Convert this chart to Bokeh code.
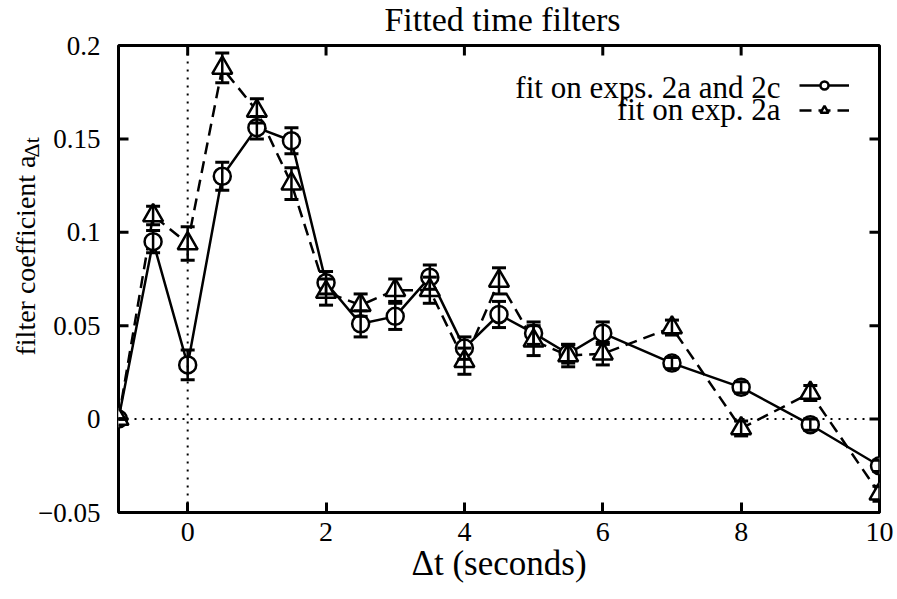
import math
from bokeh.plotting import figure
from bokeh.layouts import row, column
from bokeh.models import (ColumnDataSource, Whisker, TeeHead, Span, Label,
                          FixedTicker, Legend, LegendItem, Range1d)
from bokeh.embed import file_html
from bokeh.resources import INLINE

# ---- data ----
dt = [-1, -0.5, 0, 0.5, 1, 1.5, 2, 2.5, 3, 3.5, 4, 4.5, 5, 5.5, 6, 7, 8, 9, 10]
fit_2a_2c = [0.0, 0.095, 0.029, 0.130, 0.156, 0.149, 0.073, 0.051, 0.055, 0.076,
             0.038, 0.056, 0.046, 0.035, 0.046, 0.030, 0.017, -0.003, -0.025]
fit_2a_2c_err = [0.0, 0.006, 0.008, 0.0075, 0.006, 0.007, 0.006, 0.007, 0.007, 0.0065,
                 0.006, 0.007, 0.006, 0.005, 0.006, 0.003, 0.003, 0.003, 0.003]
fit_2a = [0.0, 0.109, 0.094, 0.188, 0.165, 0.126, 0.068, 0.061, 0.069, 0.069,
          0.031, 0.074, 0.042, 0.034, 0.035, 0.049, -0.005, 0.014, -0.040]
fit_2a_err = [0.0, 0.005, 0.009, 0.008, 0.0065, 0.0085, 0.007, 0.006, 0.006, 0.007,
              0.007, 0.007, 0.008, 0.006, 0.006, 0.004, 0.004, 0.004, 0.004]
series_names = ["fit on exps. 2a and 2c", "fit on exp. 2a"]
x_ticks = [0, 2, 4, 6, 8, 10]
x_tick_labels = ["0", "2", "4", "6", "8", "10"]
y_ticks = [-0.05, 0.0, 0.05, 0.1, 0.15, 0.2]
y_tick_labels = ["\u22120.05", "0", "0.05", "0.1", "0.15", "0.2"]
title_text = "Fitted time filters"
x_label = "\u0394t (seconds)"
y_label_main = "filter coefficient a"
y_label_sub = "\u0394t"

FONT = "Liberation Serif"
W, H = 897, 599
LEFT_W = 116                    # left strip: y tick labels + y title
TOP_H = 43                      # top strip: chart title
FRAME_TOP, FRAME_BOTTOM = 45, 512   # frame edges in page pixels
MAIN_W, MAIN_H = W - LEFT_W, H - TOP_H

X0, X1 = -1, 10
Y0, Y1 = -0.05, 0.2

def no_frame_align(f):
    try:
        f.frame_align = False
    except Exception:
        pass

src1 = ColumnDataSource(dict(
    x=dt, y=fit_2a_2c,
    lo=[v - e for v, e in zip(fit_2a_2c, fit_2a_2c_err)],
    hi=[v + e for v, e in zip(fit_2a_2c, fit_2a_2c_err)]))
src2 = ColumnDataSource(dict(
    x=dt, y=fit_2a,
    lo=[v - e for v, e in zip(fit_2a, fit_2a_err)],
    hi=[v + e for v, e in zip(fit_2a, fit_2a_err)]))

def blank_strip(w, h, xr, yr):
    f = figure(width=w, height=h, output_backend="svg", toolbar_location=None,
               x_range=xr, y_range=yr,
               min_border=0, min_border_left=0, min_border_right=0,
               min_border_top=0, min_border_bottom=0)
    f.axis.visible = False
    f.xgrid.visible = False
    f.ygrid.visible = False
    f.outline_line_color = None
    f.background_fill_color = "white"
    f.border_fill_color = "white"
    no_frame_align(f)
    return f

# ---------------- main plot ----------------
xr = Range1d(X0, X1)
yr = Range1d(Y0, Y1)
p = figure(width=MAIN_W, height=MAIN_H, output_backend="svg", toolbar_location=None,
           x_range=xr, y_range=yr,
           min_border_left=118 - LEFT_W, min_border_right=18,
           min_border_top=FRAME_TOP - TOP_H, min_border_bottom=H - FRAME_BOTTOM)
no_frame_align(p)
p.background_fill_color = "white"
p.border_fill_color = "white"
p.xgrid.visible = False
p.ygrid.visible = False
p.yaxis.visible = False
p.outline_line_color = "black"
p.outline_line_width = 3

ax = p.xaxis[0]
ax.ticker = FixedTicker(ticks=x_ticks)
ax.major_label_overrides = {t: l for t, l in zip(x_ticks, x_tick_labels)}
ax.minor_tick_line_color = None
ax.major_tick_in = 10
ax.major_tick_out = 0
ax.major_tick_line_width = 3
ax.major_tick_line_color = "black"
ax.axis_line_color = "black"
ax.axis_line_width = 3
ax.major_label_text_font = FONT
ax.major_label_text_font_size = "28px"
ax.major_label_text_color = "black"
ax.major_label_standoff = 10
ax.axis_label = x_label
ax.axis_label_text_font = FONT
ax.axis_label_text_font_size = "35px"
ax.axis_label_text_font_style = "normal"
ax.axis_label_text_color = "black"
ax.axis_label_standoff = 0

# inward ticks on the top, left and right frame edges (outer half of each dash is clipped)
p.scatter(x=x_ticks, y=[Y1] * len(x_ticks), marker="dash", angle=math.pi / 2,
          size=20, line_width=3, line_color="black")
p.scatter(x=[X1] * len(y_ticks), y=y_ticks, marker="dash",
          size=20, line_width=3, line_color="black")
p.scatter(x=[X0] * len(y_ticks), y=y_ticks, marker="dash",
          size=20, line_width=3, line_color="black")

# dotted zero axes
p.add_layout(Span(location=0, dimension="width", line_dash="2 6", line_width=2, line_color="black"))
p.add_layout(Span(location=0, dimension="height", line_dash="2 6", line_width=2, line_color="black"))

# lines
l1 = p.line("x", "y", source=src1, line_color="black", line_width=2.5)
l2 = p.line("x", "y", source=src2, line_color="black", line_width=2.5, line_dash="12 7")

# error bars
for src in (src1, src2):
    w = Whisker(source=src, base="x", lower="lo", upper="hi", dimension="height",
                line_color="black", line_width=2.5, level="glyph",
                upper_head=TeeHead(size=14, line_width=3, line_color="black"),
                lower_head=TeeHead(size=14, line_width=3, line_color="black"))
    p.add_layout(w)

# markers
m1 = p.scatter("x", "y", source=src1, marker="circle", size=17, fill_color="white",
               line_color="black", line_width=2.5)
m2 = p.scatter("x", "y", source=src2, marker="triangle", size=20, fill_color="white",
               line_color="black", line_width=2.5)

# legend: text on the left, sample on the right (gnuplot style)
legend = Legend(items=[LegendItem(label="", renderers=[l1, m1]),
                       LegendItem(label="", renderers=[l2, m2])],
                location="top_right", margin=30, padding=0, spacing=5,
                glyph_width=50, glyph_height=20, label_width=0, label_standoff=0,
                label_height=20, label_text_font=FONT, label_text_font_size="18px",
                border_line_alpha=0, background_fill_alpha=0)
p.add_layout(legend)
for i, name in enumerate(series_names):
    p.add_layout(Label(x=662, y=425 - 22 * i, x_units="screen", y_units="screen",
                       text=name, text_align="right", text_baseline="alphabetic",
                       text_font=FONT, text_font_size="31px", text_color="black"))

# ---------------- left strip: y tick labels and y title ----------------
per_px = (Y1 - Y0) / (FRAME_BOTTOM - FRAME_TOP)
left_yr = Range1d(Y0 - (H - FRAME_BOTTOM) * per_px, Y1 + FRAME_TOP * per_px)

def page_y(py):
    """page pixel row -> value on the left strip's y scale"""
    return Y1 - (py - FRAME_TOP) * per_px

left = blank_strip(LEFT_W, H, Range1d(0, LEFT_W), left_yr)
left.text(x=[100] * len(y_ticks), y=y_ticks, text=y_tick_labels,
          text_align="right", text_baseline="middle", text_font=FONT,
          text_font_size="27px", text_color="black")
left.text(x=[25], y=[page_y(355)], text=[y_label_main], angle=math.pi / 2,
          text_align="left", text_baseline="middle", text_font=FONT,
          text_font_size="28px", text_color="black")
left.text(x=[31], y=[page_y(157)], text=[y_label_sub], angle=math.pi / 2,
          text_align="left", text_baseline="middle", text_font=FONT,
          text_font_size="22px", text_color="black")

# ---------------- top strip: chart title ----------------
top = blank_strip(MAIN_W, TOP_H, Range1d(0, MAIN_W), Range1d(0, TOP_H))
top.text(x=[502 - LEFT_W], y=[TOP_H - 19], text=[title_text], text_align="center",
         text_baseline="middle", text_font=FONT, text_font_size="34px",
         text_color="black")

layout = row(left, column(top, p, spacing=0), spacing=0)
open("out.html", "w").write(file_html(layout, INLINE))
